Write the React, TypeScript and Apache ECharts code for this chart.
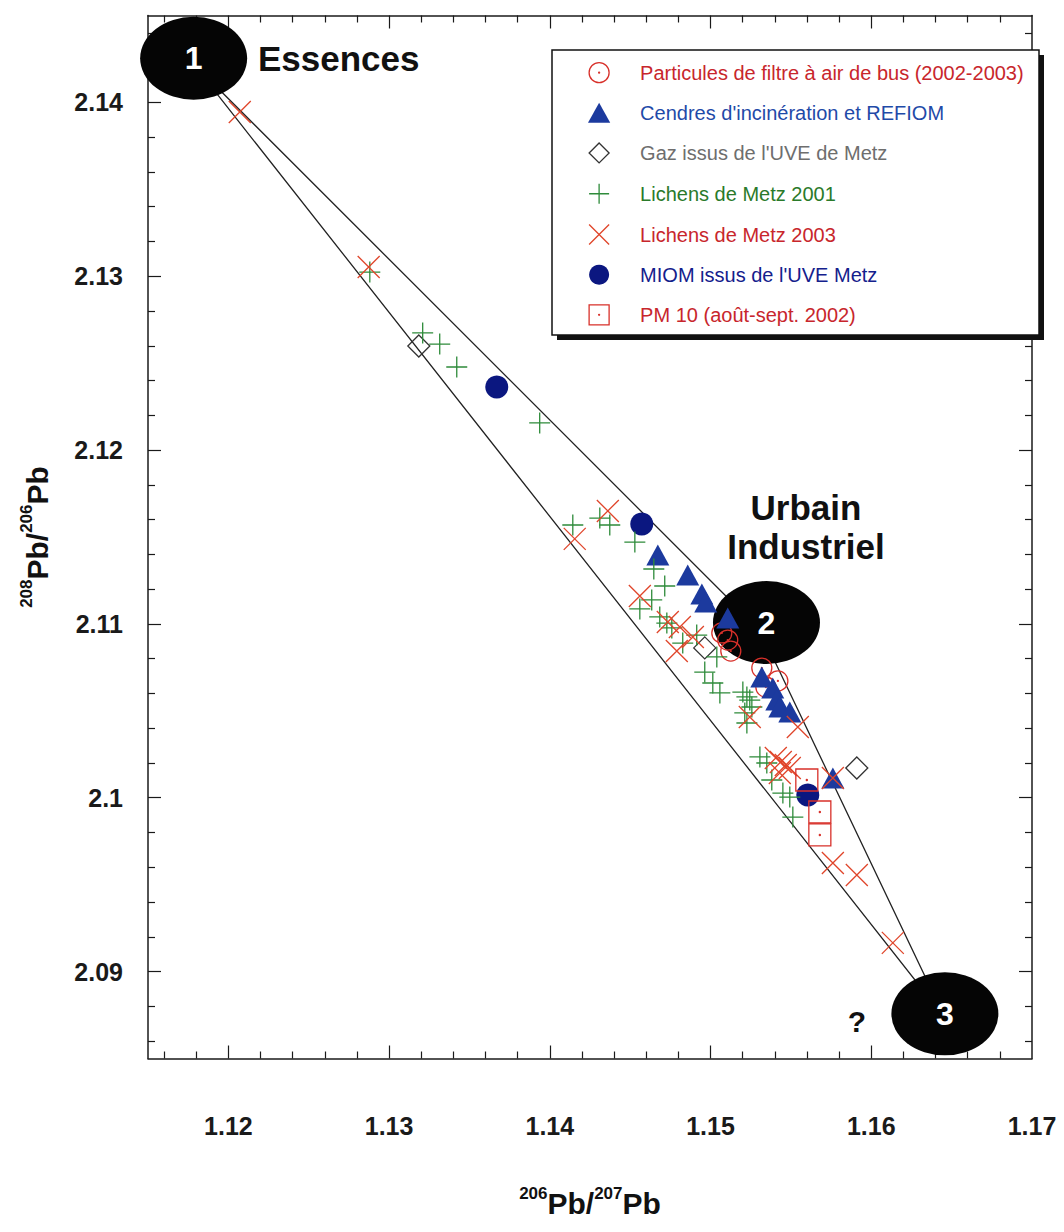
import React, { useEffect, useRef } from 'react';
import * as echarts from 'echarts';

// ---------- axes ----------
const X_MIN = 1.115;
const X_MAX = 1.17;
const Y_MIN = 2.085;
const Y_MAX = 2.145;
const xLabelValues = [1.12, 1.13, 1.14, 1.15, 1.16, 1.17];
const xTickLabels = ['1.12', '1.13', '1.14', '1.15', '1.16', '1.17'];
const yLabelValues = [2.09, 2.1, 2.11, 2.12, 2.13, 2.14];
const yTickLabels = ['2.09', '2.1', '2.11', '2.12', '2.13', '2.14'];
const MINOR_STEP = 0.002;

// ---------- series ----------
const seriesNames = [
  'Particules de filtre à air de bus (2002-2003)',
  "Cendres d'incinération et REFIOM",
  "Gaz issus de l'UVE de Metz",
  'Lichens de Metz 2001',
  'Lichens de Metz 2003',
  "MIOM issus de l'UVE Metz",
  'PM 10 (août-sept. 2002)',
];

const busX = [1.1507, 1.15107, 1.15126, 1.15319, 1.15419, 1.15344];
const busY = [2.10948, 2.10907, 2.10844, 2.10746, 2.10672, 2.10637];

const refiomX = [1.14672, 1.14858, 1.14946, 1.1497, 1.15107, 1.15319, 1.15387, 1.15412, 1.15431, 1.15493, 1.15761];
const refiomY = [2.11396, 2.11281, 2.11172, 2.11126, 2.11034, 2.10695, 2.10631, 2.10562, 2.10522, 2.10493, 2.10114];

const gazX = [1.13185, 1.14964, 1.1591];
const gazY = [2.12599, 2.10862, 2.10171];

const lich01X = [1.1288, 1.13209, 1.13315, 1.13421, 1.13937, 1.14143, 1.14311, 1.14373, 1.14529, 1.14647, 1.14715, 1.14634,
  1.1456, 1.14684, 1.14728, 1.14759, 1.14827, 1.14914, 1.15039, 1.14964, 1.15014, 1.15058, 1.15201, 1.15226, 1.15244,
  1.15257, 1.15213, 1.15226, 1.15307, 1.1535, 1.15381, 1.1545, 1.15493, 1.15512];
const lich01Y = [2.13024, 2.12674, 2.1261, 2.12478, 2.12156, 2.11569, 2.11609, 2.11569, 2.11471, 2.11316, 2.11218, 2.11138,
  2.11086, 2.1104, 2.11005, 2.10977, 2.1089, 2.10936, 2.1081, 2.10723, 2.1066, 2.10603, 2.10608, 2.1058, 2.10562,
  2.10522, 2.10488, 2.1043, 2.10235, 2.102, 2.10102, 2.10027, 2.10004, 2.09889];

const lich03X = [1.12071, 1.12873, 1.14155, 1.14361, 1.1456, 1.14734, 1.14809, 1.1489, 1.1479, 1.15244, 1.15543, 1.15406,
  1.15437, 1.15468, 1.15493, 1.15431, 1.15761, 1.15761, 1.1591, 1.16134];
const lich03Y = [2.13945, 2.13053, 2.11489, 2.1165, 2.11161, 2.11011, 2.10982, 2.10925, 2.10844, 2.10465, 2.10407, 2.10229,
  2.10206, 2.10188, 2.10171, 2.10142, 2.10114, 2.09625, 2.09556, 2.09165];

const miomX = [1.1367, 1.14572, 1.15605];
const miomY = [2.12363, 2.11575, 2.10016];

const pm10X = [1.15599, 1.1568, 1.1568];
const pm10Y = [2.10102, 2.09918, 2.09786];

// end-members (ellipses) and mixing envelope
const endMemberNames = ['1', '2', '3'];
const endMemberX = [1.11784, 1.15348, 1.16458];
const endMemberY = [2.14254, 2.11008, 2.08757];
const envelopeX = [1.11775, 1.15307, 1.16458, 1.11775];
const envelopeY = [2.1423, 2.10965, 2.08733, 2.1423];

const zip = (xs: number[], ys: number[]) => xs.map((x, i) => [x, ys[i]]);

const FONT = '"Liberation Sans", Arial, Helvetica, sans-serif';

const SYM_CIRCLE_DOT = 'path://M10,0A10,10,0,1,1,10,20A10,10,0,1,1,10,0ZM10,9.5A0.5,0.5,0,1,1,10,10.5A0.5,0.5,0,1,1,10,9.5Z';
const SYM_TRIANGLE = 'path://M10,0L20,18L0,18Z';
const SYM_DIAMOND = 'path://M10,0L20,10L10,20L0,10Z';
const SYM_PLUS = 'path://M0,10L20,10M10,0L10,20';
const SYM_CROSS = 'path://M0,0L20,20M20,0L0,20';
const SYM_SQUARE_DOT = 'path://M0,0L20,0L20,20L0,20ZM10,9.5A0.5,0.5,0,1,1,10,10.5A0.5,0.5,0,1,1,10,9.5Z';
const SYM_ELLIPSE = 'path://M0,10A10,10,0,1,1,20,10A10,10,0,1,1,0,10Z';

const RED = '#d8302a';
const legendTextColors = ['#c8262c', '#1f4aa8', '#6e6e6e', '#2a7a2a', '#c8262c', '#14208c', '#c8262c'];

function minorTicks(lo: number, hi: number, majors: number[]) {
  const out: number[] = [];
  const n = Math.round((hi - lo) / MINOR_STEP);
  for (let i = 0; i <= n; i++) {
    const v = +(lo + i * MINOR_STEP).toFixed(4);
    if (!majors.some((m) => Math.abs(m - v) < 1e-6)) out.push(v);
  }
  return out;
}

const labelFmt = (vals: number[], labels: string[]) => (v: number) => {
  const i = vals.findIndex((t) => Math.abs(t - v) < 1e-6);
  return i >= 0 ? labels[i] : '';
};

const App: React.FC = () => {
  const ref = useRef<HTMLDivElement>(null);

  useEffect(() => {
    if (!ref.current) return;
    const chart = echarts.init(ref.current, undefined, { renderer: 'svg' });

    const xMajor = xLabelValues.slice(0, 5);
    const yMajor = yLabelValues;
    const xMinor = minorTicks(1.116, 1.168, xMajor);
    const yMinor = minorTicks(2.086, 2.144, yMajor);

    const lineStyle = { color: '#1a1a1a', width: 1.5 };
    const tickStyle = { color: '#1a1a1a', width: 1.2 };
    const axisTitleRich = {
      s: { fontSize: 17, fontWeight: 'bold', fontFamily: FONT, color: '#111', verticalAlign: 'top', lineHeight: 34 },
      m: { fontSize: 30, fontWeight: 'bold', fontFamily: FONT, color: '#111', verticalAlign: 'bottom', lineHeight: 34 },
    };

    const xBase = { type: 'value', min: X_MIN, max: X_MAX, splitLine: { show: false } } as any;
    const yBase = { type: 'value', min: Y_MIN, max: Y_MAX, splitLine: { show: false } } as any;

    const scatter = (name: string, xs: number[], ys: number[], symbol: string, size: any, itemStyle: any, z = 3) => ({
      name,
      type: 'scatter',
      data: zip(xs, ys),
      symbol,
      symbolSize: size,
      itemStyle: { opacity: 1, ...itemStyle },
      silent: true,
      z,
      emphasis: { disabled: true },
    });

    const option: any = {
      animation: false,
      grid: { left: 148, right: 32, top: 15.5, bottom: 173.5, containLabel: false },
      xAxis: [
        {
          ...xBase,
          position: 'bottom',
          axisLine: { show: true, onZero: false, lineStyle },
          axisTick: { show: true, inside: true, length: 13, customValues: xMajor, lineStyle: tickStyle },
          axisLabel: {
            show: true,
            customValues: xLabelValues,
            formatter: labelFmt(xLabelValues, xTickLabels),
            margin: 55,
            fontSize: 25,
            fontWeight: 'bold',
            fontFamily: FONT,
            color: '#1a1a1a',
          },
          name: '{s|206}{m|Pb/}{s|207}{m|Pb}',
          nameLocation: 'middle',
          nameGap: 126,
          nameTextStyle: { rich: axisTitleRich },
        },
        {
          ...xBase,
          position: 'bottom',
          axisLine: { show: false },
          axisTick: { show: true, inside: true, length: 7, customValues: xMinor, lineStyle: tickStyle },
          axisLabel: { show: false },
        },
        {
          ...xBase,
          position: 'top',
          axisLine: { show: true, onZero: false, lineStyle },
          axisTick: { show: true, inside: true, length: 13, customValues: xMajor, lineStyle: tickStyle },
          axisLabel: { show: false },
        },
        {
          ...xBase,
          position: 'top',
          axisLine: { show: false },
          axisTick: { show: true, inside: true, length: 7, customValues: xMinor, lineStyle: tickStyle },
          axisLabel: { show: false },
        },
      ],
      yAxis: [
        {
          ...yBase,
          position: 'left',
          axisLine: { show: true, onZero: false, lineStyle },
          axisTick: { show: true, inside: true, length: 13, customValues: yMajor, lineStyle: tickStyle },
          axisLabel: {
            show: true,
            customValues: yLabelValues,
            formatter: labelFmt(yLabelValues, yTickLabels),
            margin: 25,
            fontSize: 25,
            fontWeight: 'bold',
            fontFamily: FONT,
            color: '#1a1a1a',
          },
          name: '{s|208}{m|Pb/}{s|206}{m|Pb}',
          nameLocation: 'middle',
          nameGap: 96,
          nameTextStyle: { rich: axisTitleRich },
        },
        {
          ...yBase,
          position: 'left',
          axisLine: { show: false },
          axisTick: { show: true, inside: true, length: 7, customValues: yMinor, lineStyle: tickStyle },
          axisLabel: { show: false },
        },
        {
          ...yBase,
          position: 'right',
          axisLine: { show: true, onZero: false, lineStyle },
          axisTick: { show: true, inside: true, length: 13, customValues: yMajor, lineStyle: tickStyle },
          axisLabel: { show: false },
        },
        {
          ...yBase,
          position: 'right',
          axisLine: { show: false },
          axisTick: { show: true, inside: true, length: 7, customValues: yMinor, lineStyle: tickStyle },
          axisLabel: { show: false },
        },
      ],
      legend: {
        show: true,
        orient: 'vertical',
        left: 588,
        top: 62,
        padding: 0,
        itemWidth: 72,
        itemHeight: 20,
        itemGap: 19.5,
        selectedMode: false,
        z: 20,
        textStyle: { fontSize: 20, fontFamily: FONT },
        data: seriesNames.map((n, i) => ({
          name: n,
          textStyle: { color: legendTextColors[i], fontSize: 20, fontFamily: FONT },
          itemStyle: { borderWidth: 1.3, opacity: 1 },
        })),
      },
      graphic: {
        elements: [
          {
            type: 'rect',
            z: 15,
            shape: { x: 557, y: 55, width: 487, height: 285 },
            style: { fill: '#111' },
            silent: true,
          },
          {
            type: 'rect',
            z: 16,
            shape: { x: 552, y: 50, width: 487, height: 285 },
            style: { fill: '#fff', stroke: '#111', lineWidth: 1.5 },
            silent: true,
          },
          {
            type: 'text',
            z: 16,
            x: 258,
            y: 58,
            style: {
              text: 'Essences',
              font: `bold 35px ${FONT}`,
              fill: '#111',
              align: 'left',
              verticalAlign: 'middle',
              textAlign: 'left',
              textVerticalAlign: 'middle',
            },
          },
          {
            type: 'text',
            z: 16,
            x: 806,
            y: 507,
            style: {
              text: 'Urbain',
              font: `bold 35px ${FONT}`,
              fill: '#111',
              align: 'center',
              verticalAlign: 'middle',
              textAlign: 'center',
              textVerticalAlign: 'middle',
            },
          },
          {
            type: 'text',
            z: 16,
            x: 806,
            y: 546,
            style: {
              text: 'Industriel',
              font: `bold 35px ${FONT}`,
              fill: '#111',
              align: 'center',
              verticalAlign: 'middle',
              textAlign: 'center',
              textVerticalAlign: 'middle',
            },
          },
          {
            type: 'text',
            z: 16,
            x: 857,
            y: 1021,
            style: {
              text: '?',
              font: `bold 30px ${FONT}`,
              fill: '#111',
              align: 'center',
              verticalAlign: 'middle',
              textAlign: 'center',
              textVerticalAlign: 'middle',
            },
          },
        ],
      },
      series: [
        {
          name: 'envelope',
          type: 'line',
          data: zip(envelopeX, envelopeY),
          symbol: 'none',
          lineStyle: { color: '#222', width: 1.3 },
          silent: true,
          z: 1,
          clip: false,
        },
        {
          name: 'endmembers',
          type: 'scatter',
          data: endMemberNames.map((n, i) => ({ name: n, value: [endMemberX[i], endMemberY[i]] })),
          symbol: SYM_ELLIPSE,
          symbolSize: [107, 83],
          itemStyle: { color: '#050505', opacity: 1 },
          label: {
            show: true,
            position: 'inside',
            formatter: '{b}',
            color: '#fff',
            fontSize: 32,
            fontWeight: 'bold',
            fontFamily: FONT,
          },
          silent: true,
          z: 2,
          clip: false,
        },
        scatter(seriesNames[0], busX, busY, SYM_CIRCLE_DOT, 20, { color: 'rgba(255,255,255,0)', borderColor: RED, borderWidth: 1.3 }),
        scatter(seriesNames[2], gazX, gazY, SYM_DIAMOND, 22, { color: 'rgba(255,255,255,0)', borderColor: '#333', borderWidth: 1.3 }),
        scatter(seriesNames[1], refiomX, refiomY, SYM_TRIANGLE, [23, 21], { color: '#1c3a9e' }),
        scatter(seriesNames[5], miomX, miomY, 'circle', 23, { color: '#0b1780' }),
        scatter(seriesNames[3], lich01X, lich01Y, SYM_PLUS, 21, { color: 'rgba(255,255,255,0)', borderColor: '#2e8b3a', borderWidth: 1.3 }),
        scatter(seriesNames[4], lich03X, lich03Y, SYM_CROSS, 22, { color: 'rgba(255,255,255,0)', borderColor: '#e0452a', borderWidth: 1.3 }),
        scatter(seriesNames[6], pm10X, pm10Y, SYM_SQUARE_DOT, 22, { color: 'rgba(255,255,255,0)', borderColor: RED, borderWidth: 1.3 }),
      ],
    };

    chart.setOption(option);
    return () => chart.dispose();
  }, []);

  return (
    <div
      ref={ref}
      style={{ position: 'absolute', left: 0, top: 0, width: 1064, height: 1232, background: '#fff' }}
    />
  );
};

export default App;
